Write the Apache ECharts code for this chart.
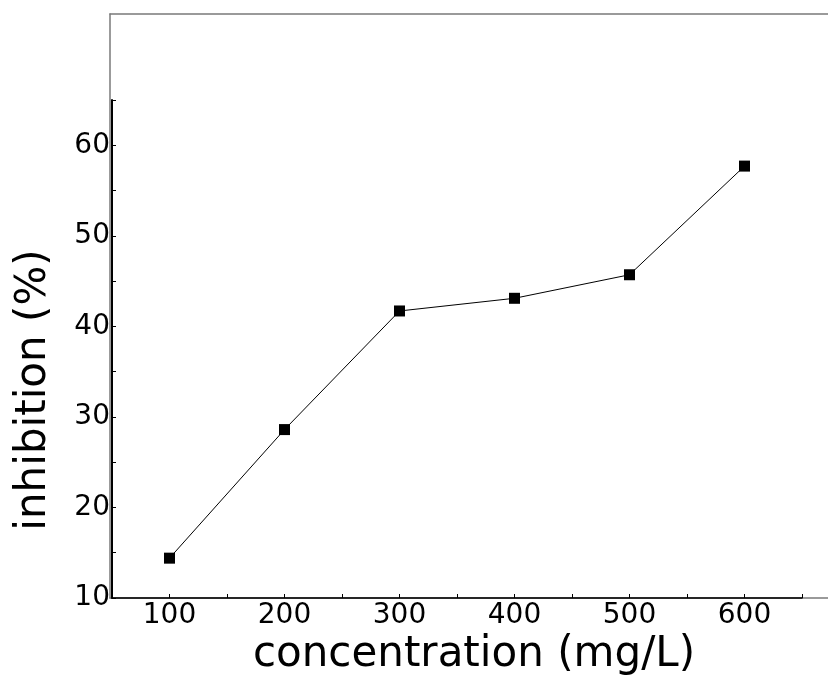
<!DOCTYPE html>
<html>
<head>
<meta charset="utf-8">
<script src="https://cdn.jsdelivr.net/npm/echarts@6/dist/echarts.min.js"></script>
<style>
  html, body { margin: 0; padding: 0; background: #fff; }
  #chart { width: 828px; height: 687px; }
</style>
</head>
<body>
<div id="chart"></div>
<script>
// concentration (mg/L) vs inhibition (%)
const concentration = [100, 200, 300, 400, 500, 600]
const inhibition = [14.4, 28.6, 41.7, 43.1, 45.7, 57.7]

const fontFamily = 'DejaVu Sans'
const frameLine = { show: true, onZero: false, lineStyle: { color: '#7a7a7a', width: 1.5 } }

const chart = echarts.init(document.getElementById('chart'))

const option = {
  backgroundColor: '#fff',
  animation: false,
  grid: [
    // main plot area
    { left: 112, right: 26, top: 100, bottom: 89 },
    // grey frame: only top, left and bottom edges, it runs off the right of the page
    { left: 110, right: 0, top: 14, bottom: 89 }
  ],
  xAxis: [
    {
      type: 'value',
      gridIndex: 0,
      min: 50,
      max: 650,
      interval: 50,
      z: 5,
      axisLine: { show: true, onZero: false, lineStyle: { color: '#000', width: 1.5 } },
      axisTick: { show: true, inside: true, length: 4, lineStyle: { color: '#000', width: 1 } },
      axisLabel: {
        margin: 4,
        color: '#000',
        fontSize: 28,
        fontFamily: fontFamily,
        formatter: v => (v % 100 === 0 ? String(v) : '')
      },
      splitLine: { show: false }
    },
    { type: 'value', gridIndex: 1, position: 'top', min: 0, max: 1, z: 1, axisLine: frameLine, axisTick: { show: false }, axisLabel: { show: false }, splitLine: { show: false } },
    { type: 'value', gridIndex: 1, position: 'bottom', min: 0, max: 1, z: 1, axisLine: frameLine, axisTick: { show: false }, axisLabel: { show: false }, splitLine: { show: false } }
  ],
  yAxis: [
    {
      type: 'value',
      gridIndex: 0,
      min: 10,
      max: 65,
      interval: 5,
      z: 5,
      axisLine: { show: true, onZero: false, lineStyle: { color: '#000', width: 2 } },
      axisTick: { show: true, inside: true, length: 4, lineStyle: { color: '#000', width: 1 } },
      axisLabel: {
        margin: 2,
        color: '#000',
        fontSize: 28,
        fontFamily: fontFamily,
        formatter: v => (v % 10 === 0 ? String(v) : '')
      },
      splitLine: { show: false }
    },
    { type: 'value', gridIndex: 1, position: 'left', min: 0, max: 1, z: 1, axisLine: frameLine, axisTick: { show: false }, axisLabel: { show: false }, splitLine: { show: false } }
  ],
  graphic: [
    {
      type: 'text',
      x: 474,
      y: 655,
      style: {
        text: 'concentration (mg/L)',
        fill: '#000',
        font: '42px "DejaVu Sans"',
        textAlign: 'center',
        textVerticalAlign: 'middle'
      }
    },
    {
      type: 'text',
      x: 34,
      y: 390,
      rotation: Math.PI / 2,
      style: {
        text: 'inhibition (%)',
        fill: '#000',
        font: '42px "DejaVu Sans"',
        textAlign: 'center',
        textVerticalAlign: 'middle'
      }
    }
  ],
  series: [
    {
      type: 'line',
      xAxisIndex: 0,
      yAxisIndex: 0,
      data: concentration.map((c, i) => [c, inhibition[i]]),
      symbol: 'rect',
      symbolSize: 11,
      lineStyle: { color: '#000', width: 1 },
      itemStyle: { color: '#000' }
    }
  ]
}

chart.setOption(option)
</script>
</body>
</html>
